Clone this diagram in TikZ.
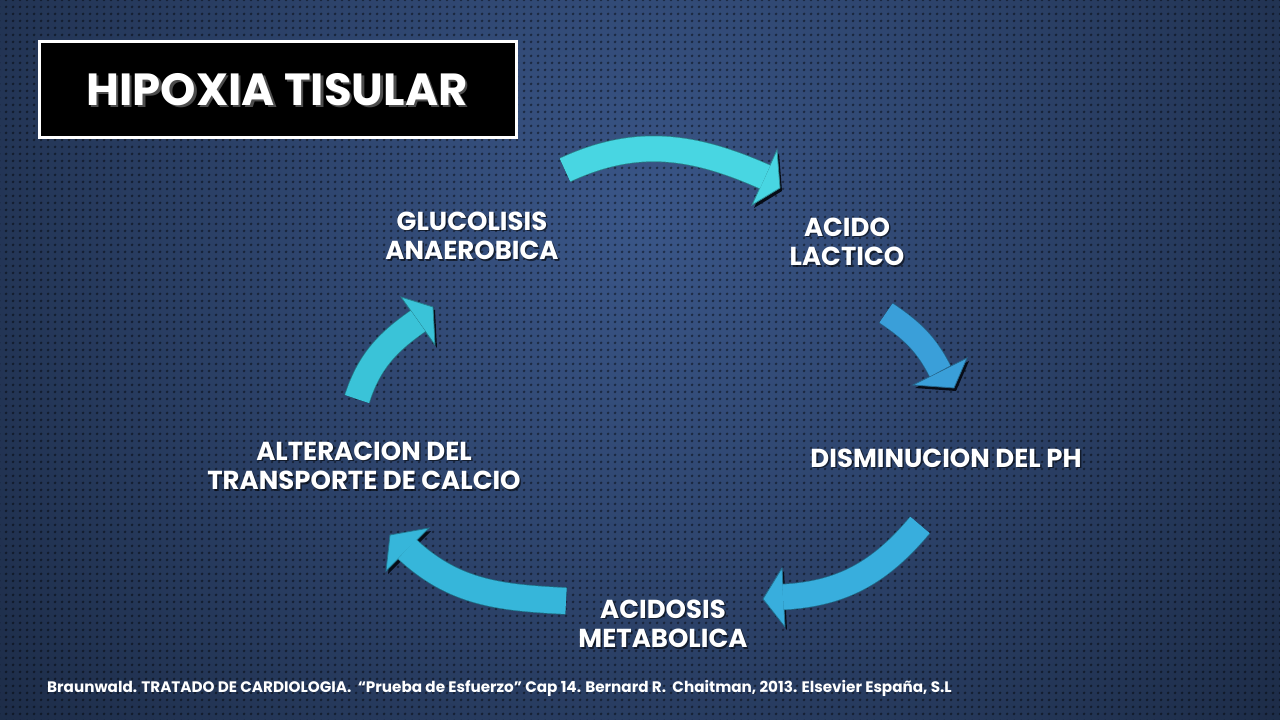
\documentclass[tikz,border=0pt]{standalone}
\usepackage{fontspec}
\setmainfont{Poppins}
\usetikzlibrary{patterns.meta}
\definecolor{bgin}{HTML}{3A5688}
\definecolor{bgout}{HTML}{0A111E}
\definecolor{shad}{HTML}{070C16}
\definecolor{aone}{HTML}{48D6E2}
\definecolor{atwo}{HTML}{3A9FD9}
\definecolor{athree}{HTML}{38AEDD}
\definecolor{afour}{HTML}{36B6DA}
\definecolor{afive}{HTML}{3AC3D8}
\tikzset{
  lbl/.style={text=white, font=\bfseries\fontsize{26}{29.5}\selectfont, align=center, inner sep=0pt},
  lblsh/.style={text=black, opacity=0.55, font=\bfseries\fontsize{26}{29.5}\selectfont, align=center, inner sep=0pt},
}
% #1 colour, #2 width, #3 tail, #4 out, #5 base, #6 in, #7 barb, #8 tip, #9 barb
\newcommand\cycarrow[9]{%
  \begin{scope}[shift={(2,3)}]
    \draw[shad, line width=#2pt+1pt] #3 to[out=#4,in=#6] #5;
    \fill[shad] #7 -- #8 -- #9 -- cycle;
  \end{scope}
  \draw[#1!65!black, line width=#2pt+1.6pt] #3 to[out=#4,in=#6] #5;
  \filldraw[fill=#1, draw=#1!65!black, line width=0.8pt, line join=miter] #7 -- #8 -- #9 -- cycle;
  \draw[#1, line width=#2pt] #3 to[out=#4,in=#6] #5;
}
\newcommand\shlabel[3]{%
  \node[lblsh] at ([shift={(1.5,1.5)}] #2) {#3};
  \node[lbl] (#1) at (#2) {#3};
}
\begin{document}
\begin{tikzpicture}[x=1pt,y=-1pt]
\useasboundingbox (0,0) rectangle (1280,720);
\begin{scope}
  \clip (0,0) rectangle (1280,720);
  \fill[bgout] (0,0) rectangle (1280,720);
  \shade[inner color=bgin, outer color=bgout] (640,220) circle (1350);
  \fill[pattern={Dots[distance=6.5pt,radius=1.6pt]}, pattern color=black, opacity=0.45] (0,0) rectangle (1280,720);
\end{scope}

% title
\node[fill=black, draw=white, line width=3pt, minimum width=477pt, minimum height=96pt, inner sep=0pt] (titlebox) at (277.5,89) {};
\node[text=black!70, font=\bfseries\fontsize{45}{50}\selectfont, inner sep=0pt] at (279.5,92) {HIPOXIA TISULAR};
\node[text=white, font=\bfseries\fontsize{45}{50}\selectfont, inner sep=0pt] (title) at (277,90) {HIPOXIA TISULAR};

% arrows
\coordinate (t1) at (565,170); \coordinate (b1) at (765,177);
\coordinate (t2) at (886,313); \coordinate (b2) at (940,371);
\coordinate (t3) at (920,525); \coordinate (b3) at (783,597);
\coordinate (t4) at (566,601); \coordinate (b4) at (407,549);
\coordinate (t5) at (357,399); \coordinate (b5) at (418,321);
\cycarrow{aone}{25}{(t1)}{25}{(b1)}{-204}{(777,150)}{(780,188)}{(752,205)}
\cycarrow{atwo}{23}{(t2)}{-34}{(b2)}{-243}{(967,358)}{(954,388)}{(913,385)}
\cycarrow{athree}{25}{(t3)}{-130}{(b3)}{3}{(782,568)}{(763,599)}{(785,627)}
\cycarrow{afour}{26}{(t4)}{-183}{(b4)}{-43}{(429,528)}{(390,535)}{(386,571)}
\cycarrow{afive}{25}{(t5)}{72}{(b5)}{-145}{(401,297)}{(433,307)}{(435,345)}

% labels
\shlabel{glu}{472,236}{GLUCOLISIS\\ANAEROBICA}
\shlabel{aci}{847,242}{ACIDO\\LACTICO}
\shlabel{dis}{946,458}{DISMINUCION DEL PH}
\shlabel{met}{663,624}{ACIDOSIS\\METABOLICA}
\shlabel{alt}{364,466}{ALTERACION DEL\\TRANSPORTE DE CALCIO}

% reference
\node[text=white, font=\bfseries\fontsize{15.2}{17}\selectfont, anchor=west, inner sep=0pt] (ref) at (47,688) {Braunwald. TRATADO DE CARDIOLOGIA.\ \ “Prueba de Esfuerzo” Cap 14. Bernard R.\ \ Chaitman, 2013. Elsevier España, S.L};
\end{tikzpicture}
\end{document}
